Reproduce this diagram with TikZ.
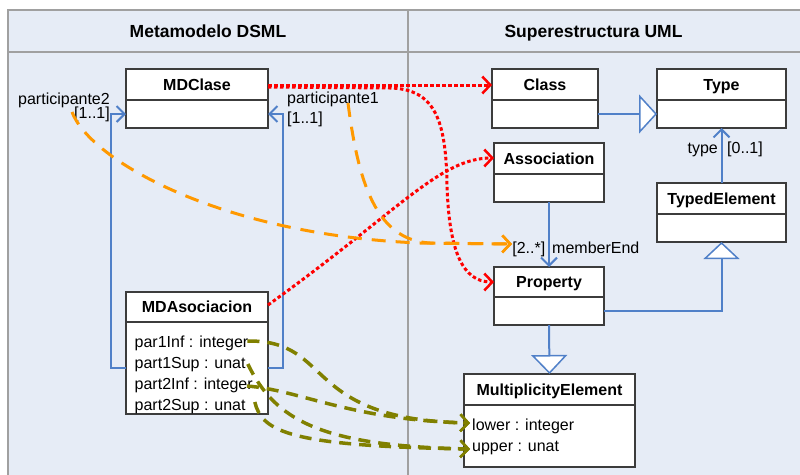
\documentclass[tikz,border=0pt]{standalone}
\usepackage{fontspec}
\setmainfont{Liberation Sans}
\usetikzlibrary{arrows.meta,calc}
\definecolor{bgblue}{RGB}{230,236,246}
\definecolor{framegray}{RGB}{160,160,160}
\definecolor{boxgray}{RGB}{60,60,60}
\definecolor{umlblue}{RGB}{80,128,200}
\definecolor{dotred}{RGB}{255,0,0}
\definecolor{dashorange}{RGB}{255,153,0}
\definecolor{olive2}{RGB}{128,128,0}
\newcommand\umlbox[7]{%
  \node[clsbox, minimum width=#4pt, minimum height=#5pt, anchor=north west] (#1) at (#2,#3) {};
  \draw[boxline] ($(#1.north west)+(0,#6)$) -- ($(#1.north east)+(0,#6)$);
  \node[cname, anchor=base] (#1-t) at ($(#1.north)+(0,#6-9.5)$) {#7};
}
\begin{document}
\begin{tikzpicture}[x=1pt,y=-1pt,
  clsbox/.style={draw=boxgray, fill=white, line width=1.2pt, inner sep=0pt, outer sep=0pt},
  boxline/.style={draw=boxgray, line width=1.2pt},
  cname/.style={font=\fontsize{16}{18}\selectfont\bfseries, inner sep=0pt},
  attr/.style={font=\fontsize{16}{18}\selectfont, inner sep=0pt, anchor=base west},
  lbl/.style={font=\fontsize{16}{18}\selectfont, inner sep=0pt},
  ttl/.style={font=\fontsize{17.5}{20}\selectfont\bfseries, inner sep=0pt, anchor=base},
  frameline/.style={draw=framegray, line width=2.5pt},
  blueline/.style={draw=umlblue, line width=2pt},
  bluebarb/.style={-{Straight Barb[length=8pt,width=16pt]}},
  gentri/.style={-{Triangle[fill=white,length=#1]}},
  reddot/.style={draw=dotred, line width=3pt, dash pattern=on 3.5pt off 2.5pt,
    -{Straight Barb[length=8pt,width=17pt,line width=2.5pt]}},
  orangedash/.style={draw=dashorange, line width=3pt, dash pattern=on 14pt off 10pt,
    -{Straight Barb[length=8pt,width=17pt,line width=2.5pt]}},
  olivedash/.style={draw=olive2, line width=3.5pt, dash pattern=on 12pt off 8pt,
    -{Straight Barb[length=8pt,width=17pt,line width=2.5pt]}}
]
\useasboundingbox (0,0) rectangle (800,474);
% frame
\fill[white] (0,0) rectangle (800,474);
\fill[bgblue] (8,10) rectangle (812,486);
\draw[frameline] (8,486) -- (8,10) -- (812,10);
\draw[frameline] (8,52) -- (812,52);
\draw[frameline] (408,10) -- (408,486);
\node[ttl] (t1) at (208,37.5) {Metamodelo DSML};
\node[ttl] (t2) at (593.5,37.5) {Superestructura UML};

% classes
\umlbox{mdclase}{126}{69}{142}{59}{31}{MDClase}
\umlbox{mdasoc}{126}{292}{142}{122}{30}{MDAsociacion}
\umlbox{class}{492}{69}{106}{59}{31}{Class}
\umlbox{type}{657}{69}{129}{59}{31}{Type}
\umlbox{assoc}{494}{143}{110}{59}{31}{Association}
\umlbox{typed}{657}{183}{129}{59}{31}{TypedElement}
\umlbox{property}{494}{267}{110}{58}{30}{Property}
\umlbox{mult}{464}{374}{171}{93}{31}{MultiplicityElement}

% attributes
\node[attr] (a1) at (134.5,347) {par1Inf : integer};
\node[attr] (a2) at (134.5,368) {part1Sup : unat};
\node[attr] (a3) at (134.5,389) {part2Inf : integer};
\node[attr] (a4) at (134.5,410) {part2Sup : unat};
\node[attr] (m1) at (472,430) {lower : integer};
\node[attr] (m2) at (472,451) {upper : unat};

% labels
\node[lbl, anchor=base east] (p2) at (110,104) {participante2};
\node[lbl, anchor=base east] (p2m) at (110,118.5) {[1..1]};
\node[lbl, anchor=base west] (p1) at (287,103) {participante1};
\node[lbl, anchor=base west] (p1m) at (287,123) {[1..1]};
\node[lbl, anchor=base east] (tyl) at (718,153) {type};
\node[lbl, anchor=base west] (tym) at (727,153) {[0..1]};
\node[lbl, anchor=base east] (mem) at (545.5,253) {[2..*]};
\node[lbl, anchor=base west] (meml) at (552,253) {memberEnd};

% blue UML connectors
\draw[blueline, bluebarb] ($(mdasoc.north west)+(0,76)$) -- ++(-15,0) |- ($(mdclase.north west)+(0,45)$);
\draw[blueline, bluebarb] ($(mdasoc.north east)+(0,76)$) -- ++(15,0) |- ($(mdclase.north east)+(0,45)$);
\draw[blueline, gentri=18pt, -{Triangle[fill=white,length=18pt,width=39pt,line width=1.5pt]}] ($(class.north east)+(0,45)$) -- ($(type.north west)+(0,45)$);
\draw[blueline, bluebarb] (typed.north) -- (type.south);
\draw[blueline, bluebarb] (assoc.south) -- (property.north);
\draw[blueline, -{Triangle[fill=white,length=17pt,width=36pt,line width=1.5pt]}] ($(property.north east)+(0,44)$) -| (typed.south);
\draw[blueline, -{Triangle[fill=white,length=19pt,width=36pt,line width=1.5pt]}] (property.south) -- (mult.north);

% red dotted mappings
\draw[reddot] ($(mdclase.north east)+(0,16)$) -- ($(class.north west)+(0,16)$);
\draw[reddot] ($(mdclase.north east)+(0,18)$) -- (390,88) .. controls (435,89) and (446,120) .. (447,185) .. controls (449,250) and (462,282) .. ($(property.north west)+(0,15)$);
\draw[reddot] ($(mdasoc.north east)+(0,13)$) .. controls (400,210) and (440,158) .. ($(assoc.north west)+(0,15)$);

% orange dashed
\coordinate (mend) at (512,244);
\coordinate (o1s) at (72,112);
\coordinate (o2s) at (348,103);
\draw[orangedash] (o1s) .. controls (90,160) and (220,235) .. (420,243) -- (mend);
\draw[orangedash] (o2s) .. controls (358,180) and (375,240) .. (430,243) -- (mend);

% olive dashed
\coordinate (lowin) at (470,423);
\coordinate (upin) at (470,449);
\draw[olivedash] ($(a1.base east)+(-1,-6)$) .. controls (335,340) and (300,420) .. (lowin);
\draw[olivedash] ($(a3.base east)+(-6,-3)$) .. controls (300,390) and (350,420) .. (lowin);
\draw[olivedash] ($(a2.base east)+(2,-4)$) .. controls (275,420) and (320,446) .. (upin);
\draw[olivedash] ($(a4.base east)+(9,-8)$) .. controls (262,432) and (290,446) .. (upin);
\end{tikzpicture}
\end{document}
